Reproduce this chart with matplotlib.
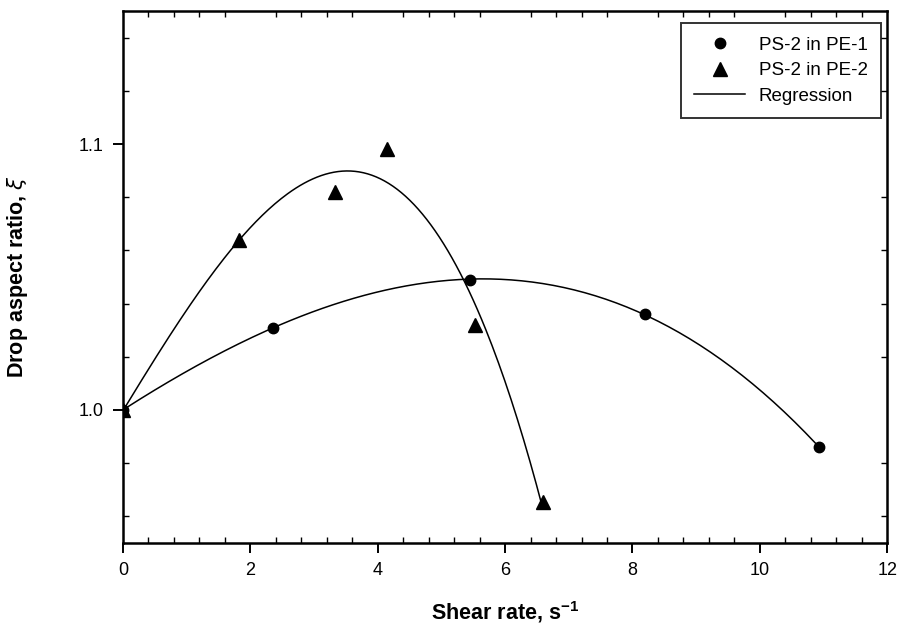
import numpy as np
import matplotlib
matplotlib.use('Agg')
import matplotlib.pyplot as plt
from matplotlib.ticker import MultipleLocator, FormatStrFormatter

plt.rcParams['font.family'] = ['Liberation Sans', 'DejaVu Sans']

# PS-2 in PE-1 (circles)
pe1_rate = [0.0, 2.35, 5.45, 8.19, 10.93]
pe1_ratio = [1.000, 1.031, 1.049, 1.036, 0.986]

# PS-2 in PE-2 (triangles)
pe2_rate = [0.0, 1.82, 3.33, 4.14, 5.53, 6.59]
pe2_ratio = [1.000, 1.064, 1.082, 1.098, 1.032, 0.9655]

fig = plt.figure(figsize=(8.98, 6.24), dpi=100)
ax = fig.add_axes([0.137, 0.130, 0.851, 0.852])

# regression curves (cubic fits of the data)
for xs, ys in [(pe1_rate, pe1_ratio), (pe2_rate, pe2_ratio)]:
    coef = np.polyfit(xs, ys, 3)
    xx = np.linspace(min(xs), max(xs), 200)
    ax.plot(xx, np.polyval(coef, xx), '-', color='black', lw=1.1)

ax.plot(pe1_rate, pe1_ratio, 'o', color='black', ms=7.5, label='PS-2 in PE-1')
ax.plot(pe2_rate, pe2_ratio, '^', color='black', ms=9.5, label='PS-2 in PE-2')
ax.plot([], [], '-', color='black', lw=1.1, label='Regression')

ax.set_xlim(0, 12)
ax.set_ylim(0.95, 1.15)
ax.xaxis.set_major_locator(MultipleLocator(2))
ax.xaxis.set_minor_locator(MultipleLocator(0.4))
ax.yaxis.set_major_locator(MultipleLocator(0.1))
ax.yaxis.set_minor_locator(MultipleLocator(0.02))
ax.yaxis.set_major_formatter(FormatStrFormatter('%.1f'))

ax.tick_params(which='major', direction='out', length=7, width=1.4, labelsize=13, pad=7)
ax.tick_params(which='minor', direction='in', length=4, width=1, top=True, right=True)
ax.tick_params(which='major', top=False, right=False)
for s in ax.spines.values():
    s.set_linewidth(1.8)

lab_font = ['Liberation Sans Narrow', 'Liberation Sans', 'DejaVu Sans']
ax.set_xlabel('Shear rate, s$^{\\mathregular{-1}}$', fontsize=15.5, fontweight='bold', family=lab_font)
ax.set_ylabel('Drop aspect ratio, $\\xi$', fontsize=15.5, fontweight='bold', family=lab_font)
ax.xaxis.set_label_coords(0.5, -0.105)
ax.yaxis.set_label_coords(-0.122, 0.5)

leg = ax.legend(loc='upper right', bbox_to_anchor=(0.992, 0.977), borderaxespad=0,
                fontsize=13.5, frameon=True, fancybox=False, edgecolor='black',
                handlelength=2.7, handletextpad=0.75, labelspacing=0.45, borderpad=0.7)
leg.get_frame().set_linewidth(1.4)

fig.savefig('out.png', dpi=100)
